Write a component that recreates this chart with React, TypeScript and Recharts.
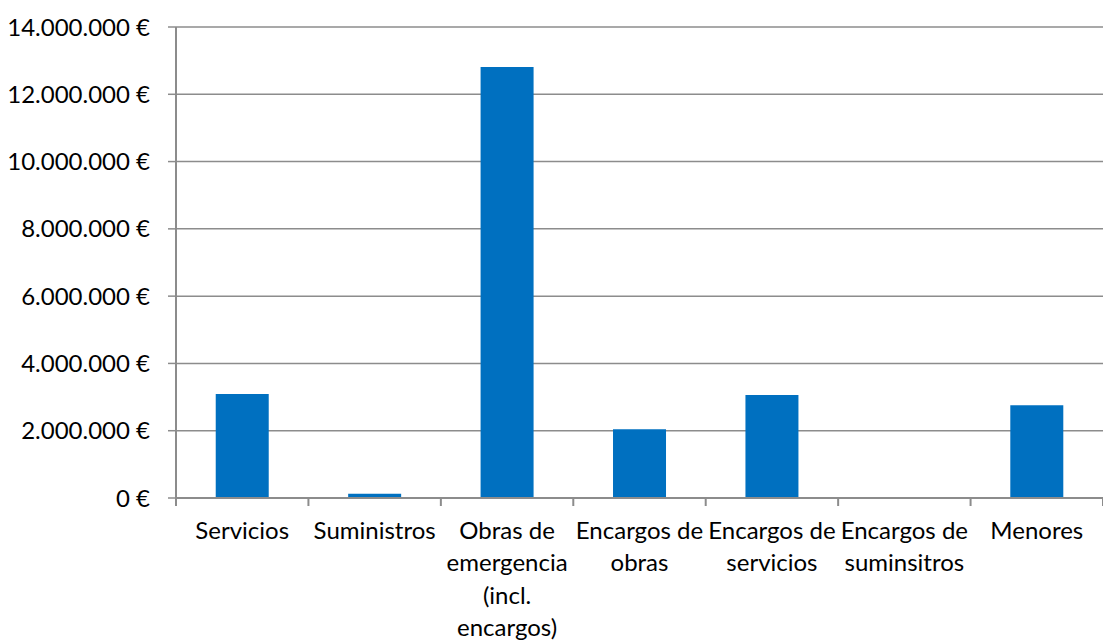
import { BarChart, Bar, XAxis, YAxis, CartesianGrid } from 'recharts';

const categories = [
  'Servicios',
  'Suministros',
  'Obras de\nemergencia\n(incl.\nencargos)',
  'Encargos de\nobras',
  'Encargos de\nservicios',
  'Encargos de\nsuminsitros',
  'Menores',
];
const importes = [3090000, 130000, 12810000, 2040000, 3060000, 0, 2760000];
const yTicks = [0, 2000000, 4000000, 6000000, 8000000, 10000000, 12000000, 14000000];

const data = categories.map((name, i) => ({ name, importe: importes[i] }));

const W = 1103;
const H = 644;
const AXIS_W = 176;
const HALF_BAND = (W - AXIS_W) / categories.length / 2;
const FONT = 'Lato, "Open Sans", sans-serif';
const GREY = '#8c8c8c';

const euro = (v: number) => String(v).replace(/\B(?=(\d{3})+(?!\d))/g, '.') + ' €';

function CategoryTick(props: any) {
  const { x, y, payload, index } = props;
  const lines = String(payload.value).split('\n');
  return (
    <g>
      <line x1={x - HALF_BAND} x2={x - HALF_BAND} y1={y} y2={y + 8} stroke={GREY} strokeWidth={2} />
      {index === categories.length - 1 && (
        <line x1={x + HALF_BAND} x2={x + HALF_BAND} y1={y} y2={y + 8} stroke={GREY} strokeWidth={2} />
      )}
      <text x={x} y={y + 41} textAnchor="middle" fontSize={24} fill="#000" fontFamily={FONT}>
        {lines.map((l, i) => (
          <tspan key={i} x={x} dy={i === 0 ? 0 : 32.3}>
            {l}
          </tspan>
        ))}
      </text>
    </g>
  );
}

export default function App() {
  return (
    <div style={{ position: 'absolute', left: 0, top: 0, width: W, height: H, background: '#fff' }}>
      <BarChart
        width={W}
        height={H}
        data={data}
        margin={{ top: 27, right: 0, bottom: 0, left: 0 }}
        barCategoryGap="30%"
      >
        <CartesianGrid vertical={false} stroke={GREY} strokeWidth={1.5} />
        <XAxis
          dataKey="name"
          interval={0}
          height={146}
          tickSize={0}
          tickMargin={0}
          tickLine={false}
          axisLine={{ stroke: GREY, strokeWidth: 2 }}
          tick={<CategoryTick />}
        />
        <YAxis
          width={AXIS_W}
          domain={[0, 14000000]}
          ticks={yTicks}
          tickFormatter={euro}
          tickSize={8}
          tickMargin={18}
          axisLine={{ stroke: GREY, strokeWidth: 2 }}
          tickLine={{ stroke: GREY, strokeWidth: 1.5 }}
          tick={{ fontSize: 24, fill: '#000', fontFamily: FONT }}
        />
        <Bar dataKey="importe" fill="#0070c0" isAnimationActive={false} />
      </BarChart>
    </div>
  );
}
